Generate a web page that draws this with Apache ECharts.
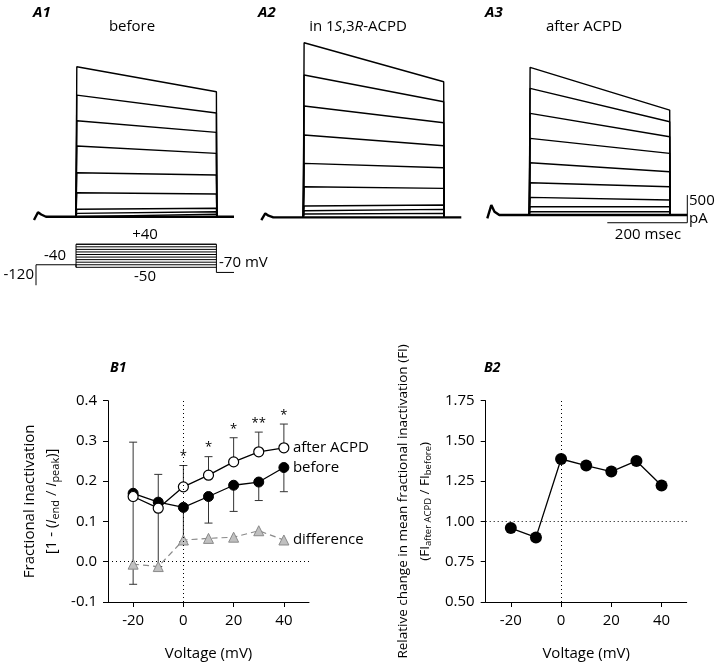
<!DOCTYPE html>
<html>
<head>
<meta charset="utf-8">
<script src="https://cdn.jsdelivr.net/npm/echarts@6/dist/echarts.min.js"></script>
<style>
  html, body { margin: 0; padding: 0; background: #fff; }
  #main { width: 720px; height: 664px; }
</style>
</head>
<body>
<div id="main"></div>
<script>
// ---- current traces (pA), read at start of step and end of step ----
var stepOnsetMs = 105, stepEndMs = 456, sweepEndMs = 500;
var preMs = [0, 10, 18, 30];
var a1Pre = [-60, 80, 40, 0];
var a2Pre = [-50, 70, 30, 0];
var a3Pre = [-60, 180, 60, 0];
var a1Early = [2708, 2196, 1733, 1276, 794, 433, 134, 61, 30];
var a1Late  = [2256, 1872, 1523, 1144, 753, 410, 152, 90, 48];
var a2Early = [3152, 2569, 2009, 1486, 975, 552, 204, 119, 60];
var a2Late  = [2448, 2087, 1708, 1292, 895, 523, 222, 144, 72];
var a3Early = [2666, 2287, 1836, 1384, 944, 583, 319, 150, 60];
var a3Late  = [1895, 1684, 1413, 1114, 782, 511, 271, 150, 60];
// voltage protocol (mV)
var holdMv = -120, prepulseMv = -40, tailMv = -70;
var stepMv = [-50, -40, -30, -20, -10, 0, 10, 20, 30, 40];
var scaleMs = 200, scalePa = 500;

// ---- B1: fractional inactivation ----
var voltages = [-20, -10, 0, 10, 20, 30, 40];
var fiBefore = [0.170, 0.148, 0.135, 0.162, 0.190, 0.198, 0.234];
var fiAfter  = [0.162, 0.133, 0.186, 0.215, 0.248, 0.273, 0.283];
var fiDiff   = [-0.006, -0.012, 0.054, 0.058, 0.061, 0.077, 0.054];
var afterUpper  = [0.297, 0.217, 0.239, 0.261, 0.308, 0.322, 0.342];
var beforeLower = [-0.056, -0.012, 0.05, 0.096, 0.125, 0.152, 0.174];
var sigVoltages = [0, 10, 20, 30, 40];
var sigLevels   = [0.262, 0.284, 0.330, 0.344, 0.363];
var sigLabels   = ['*', '*', '*', '**', '*'];
var fiTicks = [-0.1, 0.4, 0.1];

// ---- B2: relative change ----
var fiRatio = [0.959, 0.901, 1.388, 1.347, 1.310, 1.376, 1.223];
var ratioTicks = [0.5, 1.75, 0.25];
var voltTicks = [-20, 0, 20, 40];

var FONT = 'Open Sans';
var chart = echarts.init(document.getElementById('main'));

function pairs(xs, ys) { return xs.map(function (x, i) { return [x, ys[i]]; }); }

function txt(x, y, text, extra) {
  var st = { text: text, x: 0, y: 0, fill: '#000', fontFamily: FONT, fontSize: 15,
             align: 'left', verticalAlign: 'middle' };
  for (var k in extra) st[k] = extra[k];
  return { type: 'text', x: x, y: y, style: st, silent: true };
}

// trace series for one panel
function traceSeries(idx, pre, early, late) {
  var out = [];
  var base = pairs(preMs, pre).concat([[sweepEndMs, 0]]);
  out.push({ type: 'line', xAxisIndex: idx, yAxisIndex: idx, data: base, symbol: 'none',
             lineStyle: { color: '#000', width: 2.4 }, clip: false, z: 3 });
  early.forEach(function (e, i) {
    out.push({ type: 'line', xAxisIndex: idx, yAxisIndex: idx, symbol: 'none', clip: false,
      data: [[stepOnsetMs, 0], [stepOnsetMs + 2, e], [stepEndMs, late[i]], [stepEndMs + 1, 0]],
      lineStyle: { color: '#000', width: 1.4 }, z: 2 });
  });
  return out;
}

var series = [];
series = series.concat(traceSeries(0, a1Pre, a1Early, a1Late));
series = series.concat(traceSeries(1, a2Pre, a2Early, a2Late));
series = series.concat(traceSeries(2, a3Pre, a3Early, a3Late));

// scale bar in A3
series.push({ type: 'line', xAxisIndex: 2, yAxisIndex: 2, symbol: 'none', clip: false,
  data: [[sweepEndMs - scaleMs, -139], [sweepEndMs, -139], [sweepEndMs, -139 + scalePa]],
  lineStyle: { color: '#000', width: 1 } });

// protocol
series.push({ type: 'line', xAxisIndex: 3, yAxisIndex: 3, symbol: 'none', clip: false,
  data: [[5, holdMv], [5, prepulseMv], [stepOnsetMs, prepulseMv], [stepOnsetMs, stepMv[0]],
         [stepOnsetMs, stepMv[stepMv.length - 1]], [stepEndMs, stepMv[stepMv.length - 1]],
         [stepEndMs, tailMv], [sweepEndMs, tailMv]],
  lineStyle: { color: '#000', width: 1 } });
stepMv.forEach(function (v) {
  series.push({ type: 'line', xAxisIndex: 3, yAxisIndex: 3, symbol: 'none', clip: false,
    data: [[stepOnsetMs, v], [stepEndMs, v]], lineStyle: { color: '#000', width: 1 } });
});

// B1 error bars
function errBar(params, api) {
  var p0 = api.coord([api.value(0), api.value(1)]);
  var p1 = api.coord([api.value(0), api.value(2)]);
  var st = { stroke: '#333', lineWidth: 1 };
  return { type: 'group', children: [
    { type: 'line', shape: { x1: p0[0], y1: p0[1], x2: p1[0], y2: p1[1] }, style: st },
    { type: 'line', shape: { x1: p1[0] - 4, y1: p1[1], x2: p1[0] + 4, y2: p1[1] }, style: st }
  ] };
}
series.push({ type: 'custom', xAxisIndex: 4, yAxisIndex: 4, renderItem: errBar, z: 1,
  data: voltages.map(function (v, i) { return [v, fiAfter[i], afterUpper[i]]; }),
  encode: { x: 0, y: [1, 2] } });
series.push({ type: 'custom', xAxisIndex: 4, yAxisIndex: 4, renderItem: errBar, z: 1,
  data: voltages.map(function (v, i) { return [v, fiBefore[i], beforeLower[i]]; }),
  encode: { x: 0, y: [1, 2] } });
series.push({ type: 'custom', xAxisIndex: 4, yAxisIndex: 4, z: 4,
  data: sigVoltages.map(function (v, i) { return [v, sigLevels[i], i]; }),
  encode: { x: 0, y: 1 },
  renderItem: function (params, api) {
    var p = api.coord([api.value(0), api.value(1)]);
    return { type: 'text', x: p[0], y: p[1], style: { text: sigLabels[api.value(2)],
      fontFamily: FONT, fontSize: 13, fill: '#000', align: 'center', verticalAlign: 'middle' } };
  } });

var endLbl = function (t) {
  return { show: true, formatter: t, distance: 9, color: '#000', fontFamily: FONT, fontSize: 15 };
};
series.push({ type: 'line', name: 'difference', xAxisIndex: 4, yAxisIndex: 4, z: 2,
  data: pairs(voltages, fiDiff), symbol: 'triangle', symbolSize: 10,
  itemStyle: { color: '#c0c0c0', borderColor: '#8a8a8a', borderWidth: 1 },
  lineStyle: { color: '#8a8a8a', width: 1.2, type: [6, 4] }, endLabel: endLbl('difference') });
series.push({ type: 'line', name: 'before', xAxisIndex: 4, yAxisIndex: 4, z: 3,
  data: pairs(voltages, fiBefore), symbol: 'circle', symbolSize: 10,
  itemStyle: { color: '#000', borderColor: '#000', borderWidth: 1 },
  lineStyle: { color: '#000', width: 1.3 }, endLabel: endLbl('before'),
  markLine: { silent: true, symbol: ['none', 'none'], label: { show: false },
    lineStyle: { color: '#000', width: 1, type: [1, 3] },
    data: [{ xAxis: 0 }, { yAxis: 0 }] } });
series.push({ type: 'line', name: 'after ACPD', xAxisIndex: 4, yAxisIndex: 4, z: 4,
  data: pairs(voltages, fiAfter), symbol: 'circle', symbolSize: 10,
  itemStyle: { color: '#fff', borderColor: '#000', borderWidth: 1.2 },
  lineStyle: { color: '#000', width: 1.3 }, endLabel: endLbl('after ACPD') });

// B2
series.push({ type: 'line', xAxisIndex: 5, yAxisIndex: 5, data: pairs(voltages, fiRatio),
  symbol: 'circle', symbolSize: 12, itemStyle: { color: '#000' },
  lineStyle: { color: '#000', width: 1.3 },
  markLine: { silent: true, symbol: ['none', 'none'], label: { show: false },
    lineStyle: { color: '#000', width: 1, type: [1, 3] },
    data: [{ xAxis: 0 }, { yAxis: 1 }] } });

var hiddenX = { type: 'value', show: false, min: 0, max: sweepEndMs };
var hiddenY = { type: 'value', show: false, min: -400, max: 3400 };
var axisTxt = { color: '#000', fontFamily: FONT, fontSize: 15 };

function voltAxis(gi) {
  return { type: 'value', gridIndex: gi, min: -30, max: 50, interval: 10,
    name: 'Voltage (mV)', nameLocation: 'middle', nameGap: 44, nameTextStyle: axisTxt,
    axisLine: { onZero: false, lineStyle: { color: '#000', width: 1 } },
    axisTick: { length: 5, lineStyle: { color: '#000' }, customValues: voltTicks },
    axisLabel: Object.assign({ margin: 11, customValues: voltTicks }, axisTxt),
    splitLine: { show: false } };
}
function valAxis(gi, t, dec, name, gap, fs, rich) {
  return { type: 'value', gridIndex: gi, min: t[0], max: t[1], interval: t[2],
    name: name, nameLocation: 'middle', nameRotate: 90, nameGap: gap,
    nameTextStyle: { color: '#000', fontFamily: FONT, fontSize: fs, lineHeight: 22, rich: rich },
    axisLine: { show: true, onZero: false, lineStyle: { color: '#000', width: 1 } },
    axisTick: { show: true, length: 5, lineStyle: { color: '#000' } },
    axisLabel: Object.assign({ margin: 11, formatter: function (v) { return v.toFixed(dec); } }, axisTxt),
    splitLine: { show: false } };
}
function subRich(fs) {
  return {
    i: { fontStyle: 'italic', fontFamily: FONT, fontSize: fs, lineHeight: 22, color: '#000' },
    s: { fontFamily: FONT, fontSize: fs - 4, lineHeight: 10, padding: [7, 0, 0, 0], color: '#000' }
  };
}

var option = {
  animation: false,
  backgroundColor: '#fff',
  grid: [
    { left: 34, top: 28.4, width: 200, height: 210.5 },
    { left: 261.3, top: 29.0, width: 200, height: 210.5 },
    { left: 487.3, top: 26.7, width: 200, height: 210.5 },
    { left: 34, top: 241.7, width: 200, height: 46.1 },
    { left: 108, top: 400.7, width: 201, height: 201.3 },
    { left: 485.7, top: 400.7, width: 201, height: 201.3 }
  ],
  xAxis: [
    Object.assign({ gridIndex: 0 }, hiddenX),
    Object.assign({ gridIndex: 1 }, hiddenX),
    Object.assign({ gridIndex: 2 }, hiddenX),
    Object.assign({ gridIndex: 3 }, hiddenX),
    voltAxis(4), voltAxis(5)
  ],
  yAxis: [
    Object.assign({ gridIndex: 0 }, hiddenY),
    Object.assign({ gridIndex: 1 }, hiddenY),
    Object.assign({ gridIndex: 2 }, hiddenY),
    { type: 'value', gridIndex: 3, show: false, min: -130, max: 50 },
    valAxis(4, fiTicks, 1, 'Fractional inactivation\n[1 - ({i|I}{s|end} / {i|I}{s|peak})]', 45, 15, subRich(15)),
    valAxis(5, ratioTicks, 2, 'Relative change in mean fractional inactivation (FI)\n(FI{s|after ACPD} / FI{s|before})', 50, 13.5, subRich(13.5))
  ],
  series: series,
  graphic: { elements: [
    txt(33, 13, 'A1', { fontWeight: 'bold', fontStyle: 'italic', fontSize: 15 }),
    txt(132, 27, 'before', { align: 'center' }),
    txt(258, 13, 'A2', { fontWeight: 'bold', fontStyle: 'italic', fontSize: 15 }),
    txt(358, 27, 'in 1{i|S},3{i|R}-ACPD', { align: 'center',
      rich: { i: { fontStyle: 'italic', fontFamily: FONT, fontSize: 15 } } }),
    txt(485, 13, 'A3', { fontWeight: 'bold', fontStyle: 'italic', fontSize: 15 }),
    txt(584, 27, 'after ACPD', { align: 'center' }),
    txt(689, 201, '500', { fontSize: 15 }),
    txt(689, 219, 'pA', { fontSize: 15 }),
    txt(648, 235, '200 msec', { align: 'center', fontSize: 15 }),
    txt(145, 235, '+40', { align: 'center', fontSize: 15 }),
    txt(55, 256, '-40', { align: 'center', fontSize: 15 }),
    txt(34, 275, '-120', { align: 'right', fontSize: 15 }),
    txt(145, 277, '-50', { align: 'center', fontSize: 15 }),
    txt(219, 263, '-70 mV', { fontSize: 15 }),
    txt(110, 368, 'B1', { fontWeight: 'bold', fontStyle: 'italic', fontSize: 14 }),
    txt(484, 368, 'B2', { fontWeight: 'bold', fontStyle: 'italic', fontSize: 14 })
  ] }
};
chart.setOption(option);
</script>
</body>
</html>
